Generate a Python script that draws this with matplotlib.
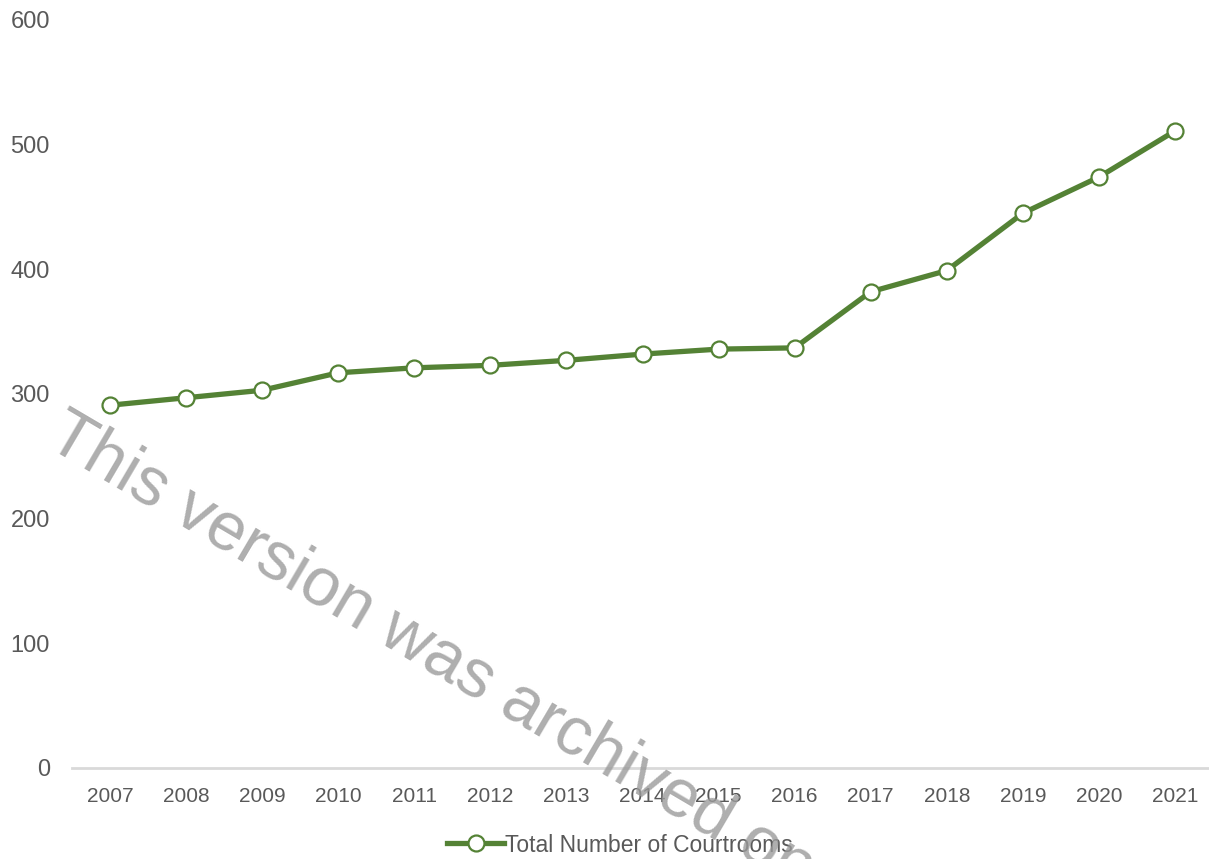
import matplotlib
matplotlib.use("Agg")
import matplotlib.pyplot as plt

years = ['2007', '2008', '2009', '2010', '2011', '2012', '2013', '2014',
         '2015', '2016', '2017', '2018', '2019', '2020', '2021']
courtrooms = [291, 297, 303, 317, 321, 323, 327, 332, 336, 337, 382, 399, 445, 474, 511]
yticks = [0, 100, 200, 300, 400, 500, 600]

plt.rcParams['font.family'] = ['Liberation Sans', 'DejaVu Sans']

W, H = 1209, 859
fig = plt.figure(figsize=(W / 100, H / 100), dpi=100)
ax = fig.add_axes([72 / W, 1 - 768 / H, (1213 - 72) / W, (768 - 20) / H])

x = range(len(years))
ax.plot(x, courtrooms, color='#548235', linewidth=3.8, marker='o', markersize=11.5,
        markerfacecolor='white', markeredgecolor='#548235', markeredgewidth=1.6,
        label='Total Number of Courtrooms', clip_on=False, zorder=3)

ax.set_xlim(-0.5, len(years) - 0.5)
ax.set_ylim(0, 600)
ax.set_xticks(list(x))
ax.set_xticklabels(years)
ax.set_yticks(yticks)
ax.set_yticklabels([str(v) for v in yticks])

for s in ['top', 'right', 'left']:
    ax.spines[s].set_visible(False)
ax.spines['bottom'].set_color('#d9d9d9')
ax.spines['bottom'].set_linewidth(2)
ax.tick_params(axis='x', length=0, pad=14, labelsize=15, colors='#595959')
ax.tick_params(axis='y', length=0, pad=16, labelsize=17, colors='#595959')

leg = fig.legend(loc='center', bbox_to_anchor=(620 / W, 1 - 845 / H), frameon=False,
                 fontsize=16.5, handlelength=2.45, handletextpad=0.05)
for t in leg.get_texts():
    t.set_color('#595959')

# archive watermark drawn over everything
fig.text(44 / W, 1 - 445 / H, 'This version was archived on', fontsize=49,
         color='#9a9a9a', alpha=0.8, rotation=-30.5, rotation_mode='anchor',
         ha='left', va='baseline', zorder=10)

fig.savefig('out.png', dpi=100)
